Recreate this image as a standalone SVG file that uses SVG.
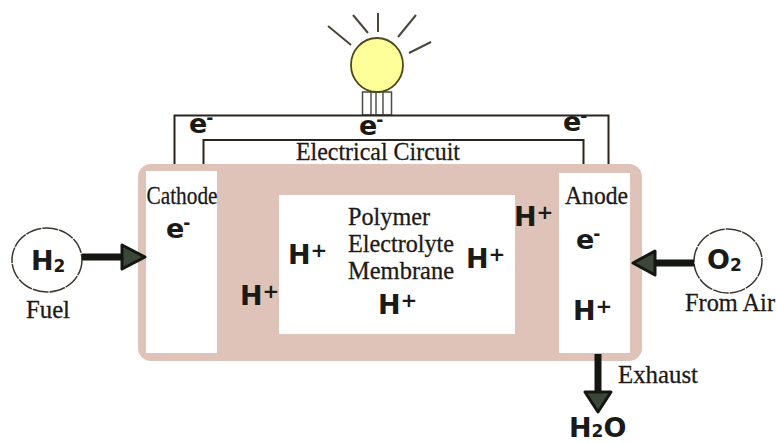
<svg xmlns="http://www.w3.org/2000/svg" width="777" height="443" viewBox="0 0 777 443">
<style>
.s{font-family:"Liberation Serif","Times New Roman",serif;font-size:25px;fill:#1c1a18;stroke:#1c1a18;stroke-width:.3}
.b{font-family:"DejaVu Sans",Verdana,sans-serif;font-weight:bold;font-size:27px;fill:#1a1a18}
.u{font-size:20px}
.m{font-size:17px}
.w{fill:none;stroke:#2a2420;stroke-width:2}
.r{fill:none;stroke:#4a463c;stroke-width:2}
.a{fill:#3c4639;stroke:#141611;stroke-width:3;stroke-linejoin:round}
.l{fill:none;stroke:#141611;stroke-width:7}
.c{fill:#fff;stroke:#3c3630;stroke-width:1.500;stroke-dasharray:16 1}
.p{fill:#fff}
</style>
<rect width="777" height="443" fill="#fff"/>
<g id="cell">
<rect x="138" y="164" width="504" height="197" rx="13" fill="#e0c3b8"/>
</g>
<g id="cathode">
<rect class="p" x="146" y="171" width="71" height="182"/>
<text class="s" x="146.500" y="204" textLength="71" lengthAdjust="spacingAndGlyphs">Cathode</text>
<text class="b" x="166" y="238">e<tspan class="m" dy="-9" dx="-1">-</tspan></text>
</g>
<g id="anode">
<rect class="p" x="559" y="173" width="71" height="180"/>
<text class="s" x="565" y="204" textLength="63" lengthAdjust="spacingAndGlyphs">Anode</text>
<text class="b" x="576" y="249">e<tspan class="m" dy="-9" dx="-1">-</tspan></text>
<text class="b" x="573" y="320">H<tspan class="u" dy="-7">+</tspan></text>
</g>
<g id="membrane">
<rect class="p" x="279" y="195" width="236" height="139"/>
<text class="s" x="348" y="225" textLength="82" lengthAdjust="spacingAndGlyphs">Polymer</text>
<text class="s" x="348" y="252" textLength="106" lengthAdjust="spacingAndGlyphs">Electrolyte</text>
<text class="s" x="348" y="279" textLength="106" lengthAdjust="spacingAndGlyphs">Membrane</text>
<text class="b" x="288" y="264">H<tspan class="u" dy="-7">+</tspan></text>
<text class="b" x="466" y="268">H<tspan class="u" dy="-7">+</tspan></text>
<text class="b" x="378" y="314">H<tspan class="u" dy="-7">+</tspan></text>
</g>
<g id="ions">
<text class="b" x="240" y="305">H<tspan class="u" dy="-7">+</tspan></text>
<text class="b" x="514" y="226">H<tspan class="u" dy="-7">+</tspan></text>
</g>
<g id="bulb">
<path class="r" d="M351 45L328 26M368 33L353 15M378 32V13M398 37L416 15M409 53L431 42"/>
<rect x="362.500" y="92" width="29" height="23" fill="#fff" stroke="#4a4a44" stroke-width="1.500"/>
<path d="M371 92V115M376 92V115M383 92V115" fill="none" stroke="#55554d" stroke-width="1.500"/>
<ellipse cx="377" cy="65" rx="26" ry="27" fill="#ffff99" stroke="#4e4a20" stroke-width="1.800"/>
</g>
<g id="circuit-label">
<text class="b" x="189" y="133">e<tspan class="m" dy="-9" dx="-1">-</tspan></text>
<text class="b" x="359" y="135">e<tspan class="m" dy="-9" dx="-1">-</tspan></text>
<text class="b" x="563" y="131">e<tspan class="m" dy="-9" dx="-1">-</tspan></text>
<text class="s" x="296" y="160" textLength="164" lengthAdjust="spacingAndGlyphs">Electrical Circuit</text>
</g>
<g id="fuel">
<ellipse class="c" cx="47" cy="260" rx="35" ry="32"/>
<text class="b" x="31" y="270">H<tspan class="m" dy="2">2</tspan></text>
<text class="s" x="26" y="318" textLength="44" lengthAdjust="spacingAndGlyphs">Fuel</text>
</g>
<g id="air">
<ellipse class="c" cx="728" cy="261" rx="34" ry="32"/>
<text class="b" x="707" y="269">O<tspan class="m" dy="2">2</tspan></text>
<text class="s" x="685" y="311" textLength="90" lengthAdjust="spacingAndGlyphs">From Air</text>
</g>
<g id="exhaust">
<text class="s" x="618" y="383" textLength="80" lengthAdjust="spacingAndGlyphs">Exhaust</text>
<text class="b" x="569" y="437" font-size="26">H<tspan class="m">2</tspan>O</text>
</g>
<g id="connectors">
<path class="w" d="M174.500 164V115.500H608.500V164"/>
<path class="w" d="M203.500 164V140H583.500V164"/>
<path class="l" d="M82 257H122"/>
<path class="a" d="M122 245L145 257L122 269Z"/>
<path class="l" d="M694 263H655"/>
<path class="a" d="M655 251L633 263L655 275Z"/>
<path class="l" d="M598 354V392"/>
<path class="a" d="M585 392H611L598 412Z"/>
</g>
</svg>
